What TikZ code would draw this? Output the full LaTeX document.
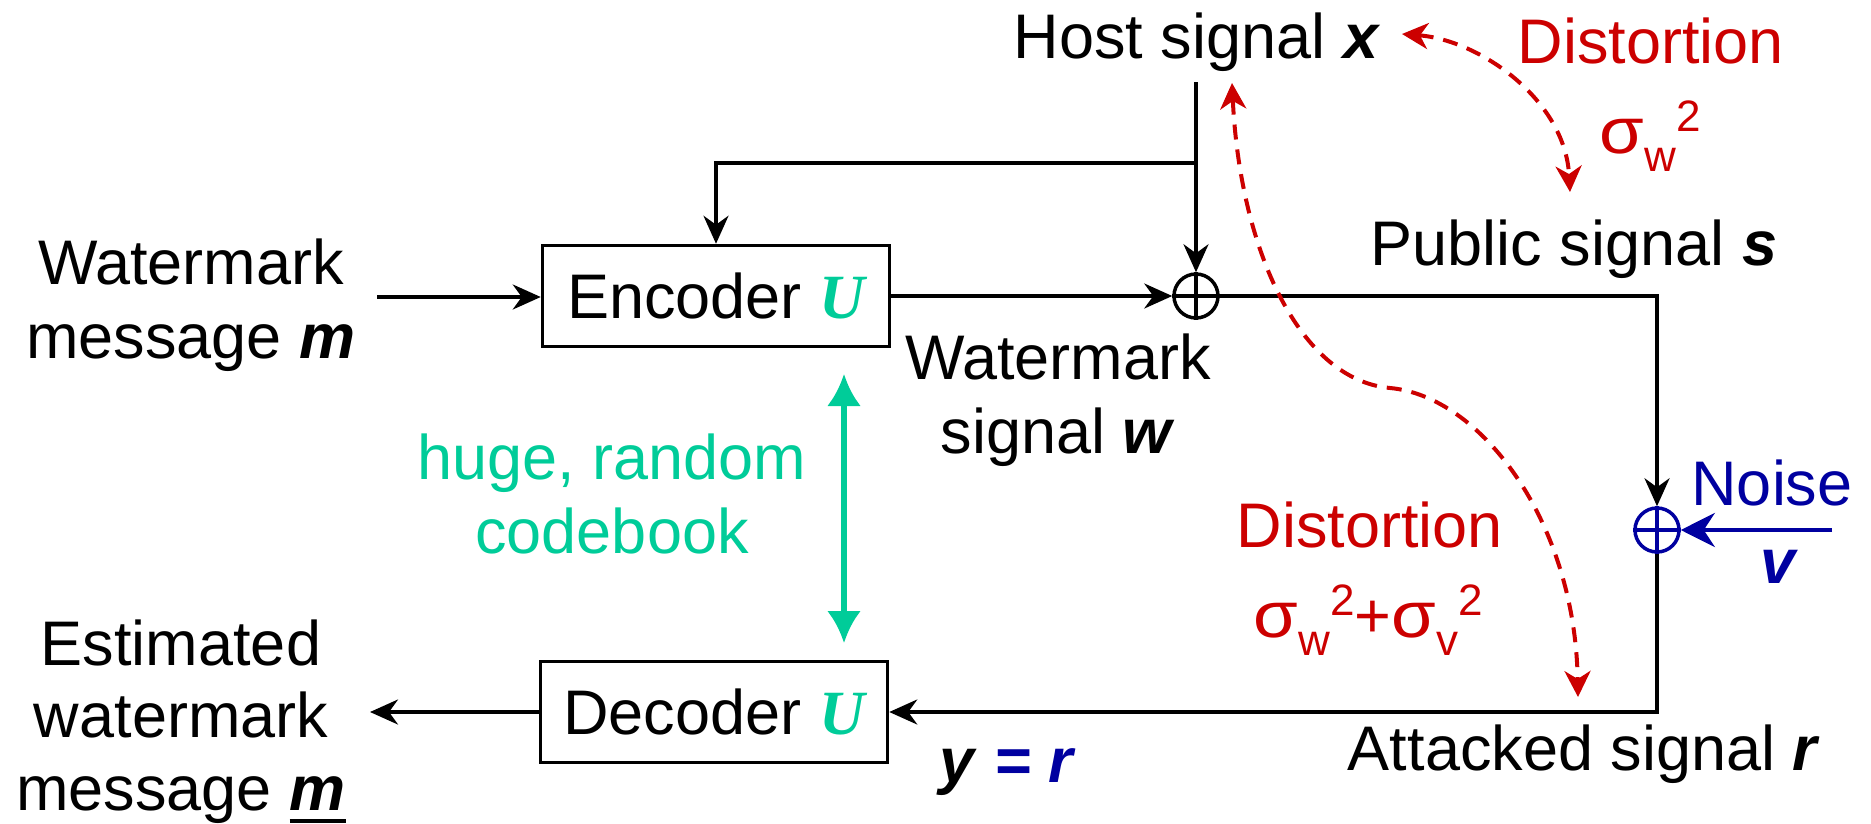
\documentclass[tikz,border=0pt]{standalone}
\usepackage{fontspec}
\setmainfont{Liberation Sans}
\newfontfamily\codefont{Liberation Serif}
\usetikzlibrary{arrows.meta}
\definecolor{sigred}{RGB}{204,0,0}
\definecolor{noiseblue}{RGB}{0,0,160}
\definecolor{codegreen}{RGB}{0,204,153}
\newcommand{\vecv}[1]{\textbf{\textit{#1}}}
\newcommand{\codeU}{{\codefont\bfseries\itshape\color{codegreen}U}}
\newcommand{\sig}{\scalebox{1.15}[1.03]{σ}}
\newcommand{\sigsub}[2]{\sig\raisebox{-18pt}{\fontsize{44}{44}\selectfont #1}\raisebox{22pt}{\fontsize{44}{44}\selectfont #2}}
\newcommand{\ulbold}[1]{\setbox0\hbox{#1}\rlap{\rule[-13pt]{\wd0}{4.5pt}}\box0}
\begin{document}
\begin{tikzpicture}[x=1pt,y=-1pt,
  every node/.style={font=\fontsize{63}{74}\selectfont, inner sep=0pt},
  lbl/.style={anchor=base, align=center},
  blockbox/.style={draw, line width=3.5pt, minimum width=347pt, minimum height=101pt},
  sumnode/.style={circle, draw, line width=3.5pt, minimum size=44pt},
  flow/.style={line width=3.5pt, -{Stealth[length=28pt,width=25pt,inset=9pt]}},
  noiseflow/.style={noiseblue, line width=4.5pt, -{Stealth[length=34pt,width=34pt,inset=11pt]}},
  codelink/.style={codegreen, line width=5.5pt, {Latex[length=32pt,width=34pt]}-{Latex[length=32pt,width=34pt]}},
  distlink/.style={sigred, line width=4pt, dash pattern=on 15pt off 10pt,
    {Stealth[length=26pt,width=26pt,inset=8pt]}-{Stealth[length=26pt,width=26pt,inset=8pt]}},
]
\useasboundingbox (0,0) rectangle (1871,823);

% blocks and summing junctions
\node[blockbox] (enc) at (716,296) {Encoder \codeU};
\node[blockbox] (dec) at (714,712) {Decoder \codeU};
\node[sumnode] (s1) at (1196,296) {};
\node[sumnode, noiseblue] (s2) at (1657,530) {};
\draw[line width=3.5pt] (s1.north) -- (s1.south) (s1.west) -- (s1.east);
\draw[noiseblue, line width=3.5pt] (s2.north) -- (s2.south) (s2.west) -- (s2.east);

% labels (multi-line labels sit on the baseline of their last line)
\node[lbl] (host) at (1197,58) {Host signal \vecv{x}};
\node[lbl] (pub) at (1574,265) {Public signal \vecv{s}};
\node[lbl] (att) at (1584,770) {Attacked signal \vecv{r}};
\node[lbl] (wmsg) at (191,358) {Watermark\\message \vecv{m}};
\node[lbl] (wsig) at (1058,453) {Watermark\\signal \vecv{w}};
\node[lbl, codegreen] (cb) at (612,553) {huge, random\\codebook};
\node[lbl, font=\fontsize{63}{72.5}\selectfont] (est) at (181,810) {Estimated\\watermark\\message \ulbold{\vecv{m}}};
\node[lbl, sigred] (d1) at (1651,63) {Distortion};
\node[lbl, sigred] (d1s) at (1650,153) {\sigsub{w}{2}};
\node[lbl, sigred] (d2) at (1370,547) {Distortion};
\node[lbl, sigred] (d2s) at (1368,637) {\sigsub{w}{2}+\sigsub{v}{2}};
\node[lbl, noiseblue] (noise) at (1772,505) {Noise};
\node[lbl, noiseblue] (nv) at (1779,583) {\vecv{v}};
\node[lbl] (yr) at (1008,782) {\vecv{y} {\color{noiseblue}\vecv{=} \vecv{r}}};

% free ends of the signal paths
\coordinate (hostTap) at (1196,82);
\coordinate (branch) at (1196,163);
\coordinate (msgIn) at (377,297);
\coordinate (msgOut) at (370,712);
\coordinate (noiseIn) at (1832,530);
\coordinate (cbTop) at (844,374);
\coordinate (cbBot) at (844,643);

% signal flow
\draw[flow] (msgIn) -- (msgIn -| enc.west);
\draw[flow] (hostTap) -- (s1.north);
\draw[flow] (branch) -| (enc.north);
\draw[flow] (enc.east |- s1) -- (s1.west);
\draw[flow] (s1.east) -| (s2.north);
\draw[flow] (s2.south) |- (dec.east);
\draw[flow] (dec.west) -- (msgOut);
\draw[noiseflow] (noiseIn) -- (s2.east);
\draw[codelink] (cbTop) -- (cbBot);

% distortion relations
\coordinate (xTip) at (1402,34);
\coordinate (sTip) at (1570,192);
\coordinate (hTip) at (1232,83);
\coordinate (mid) at (1390,388);
\coordinate (rTip) at (1578,697);
\draw[distlink] (xTip) .. controls (1480,40) and (1565,100) .. (sTip);
\draw[distlink] (hTip) .. controls (1240,250) and (1300,380) .. (mid)
  .. controls (1480,396) and (1575,520) .. (rTip);
\end{tikzpicture}
\end{document}
